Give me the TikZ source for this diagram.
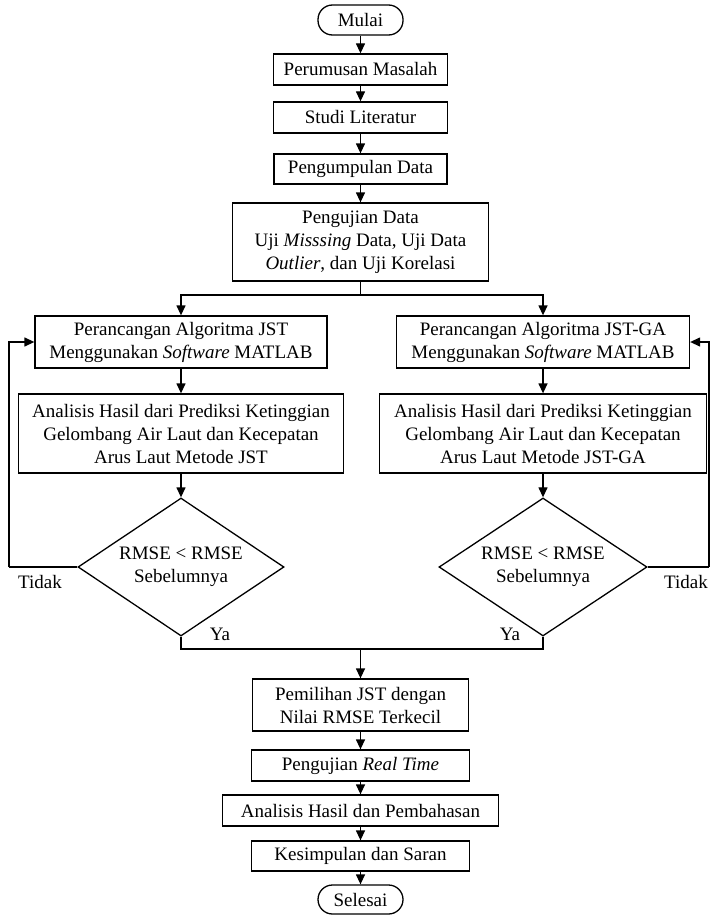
\documentclass[tikz,border=0pt]{standalone}
\usepackage{fontspec}
\setmainfont{Liberation Serif}
\usetikzlibrary{shapes.geometric,arrows.meta}
\begin{document}
\begin{tikzpicture}[x=1pt,y=-1pt,font=\fontsize{19}{23}\selectfont,
  box/.style={draw,line width=1.3pt,rectangle,inner sep=0pt,align=center},
  term/.style={draw,line width=1.3pt,rounded corners=14.5pt,inner sep=0pt},
  dec/.style={draw,line width=1.3pt,diamond,inner sep=0pt,aspect=1.5,align=center},
  arr/.style={line width=1.3pt,-{Triangle[length=10pt,width=9pt]}},
  ln/.style={line width=1.3pt}]
\useasboundingbox (0,0) rectangle (710,915);

\node[term,minimum width=85pt,minimum height=30pt] (mulai) at (360.5,20) {Mulai};
\node[box,minimum width=174pt,minimum height=31pt] (rumus) at (360.5,69.5) {Perumusan Masalah};
\node[box,minimum width=174pt,minimum height=31pt] (studi) at (360.5,117.5) {Studi Literatur};
\node[box,minimum width=173pt,minimum height=30pt] (kumpul) at (360.5,169) {Pengumpulan Data};
\node[box,minimum width=256pt,minimum height=78pt] (uji) at (360.5,242) {Pengujian Data\\Uji \textit{Misssing} Data, Uji Data\\\textit{Outlier}, dan Uji Korelasi};

\node[box,minimum width=292pt,minimum height=52pt] (jstA) at (181,342) {Perancangan Algoritma JST\\Menggunakan \textit{Software} MATLAB};
\node[box,minimum width=325pt,minimum height=79pt] (anaA) at (181,433.5) {Analisis Hasil dari Prediksi Ketinggian\\Gelombang Air Laut dan Kecepatan\\Arus Laut Metode JST};
\node[dec,minimum width=206pt,minimum height=138pt] (diaA) at (181,567) {RMSE < RMSE\\Sebelumnya};

\node[box,minimum width=293pt,minimum height=52pt] (jstB) at (543,342) {Perancangan Algoritma JST-GA\\Menggunakan \textit{Software} MATLAB};
\node[box,minimum width=327pt,minimum height=79pt] (anaB) at (543,433.5) {Analisis Hasil dari Prediksi Ketinggian\\Gelombang Air Laut dan Kecepatan\\Arus Laut Metode JST-GA};
\node[dec,minimum width=208pt,minimum height=138pt] (diaB) at (543,567) {RMSE < RMSE\\Sebelumnya};

\node[box,minimum width=216pt,minimum height=52pt] (pilih) at (360.5,705) {Pemilihan JST dengan\\Nilai RMSE Terkecil};
\node[box,minimum width=218pt,minimum height=31pt] (real) at (360.5,765.5) {Pengujian \textit{Real Time}};
\node[box,minimum width=276pt,minimum height=31pt] (bahas) at (360.5,810.5) {Analisis Hasil dan Pembahasan};
\node[box,minimum width=218pt,minimum height=30pt] (simpul) at (360.5,856) {Kesimpulan dan Saran};
\node[term,minimum width=85pt,minimum height=29pt] (selesai) at (360.5,899.5) {Selesai};

\node (tidakA) at (40,582) {Tidak};
\node (tidakB) at (686,582) {Tidak};
\node (yaA) at (220,634) {Ya};
\node (yaB) at (510,634) {Ya};

\coordinate (split) at (360.5,295);
\coordinate (merge) at (360.5,649);
\coordinate (fbA) at (9,567);
\coordinate (fbB) at (709,567);

\draw[arr] (mulai) -- (rumus);
\draw[arr] (rumus) -- (studi);
\draw[arr] (studi) -- (kumpul);
\draw[arr] (kumpul) -- (uji);
\draw[ln] (uji) -- (split);
\draw[arr] (split) -| (jstA.north);
\draw[arr] (split) -| (jstB.north);
\draw[arr] (jstA) -- (anaA);
\draw[arr] (jstB) -- (anaB);
\draw[arr] (anaA) -- (diaA);
\draw[arr] (anaB) -- (diaB);
\draw[ln] (diaA.west) -- (fbA);
\draw[arr] (fbA) |- (jstA.west);
\draw[ln] (diaB.east) -- (fbB);
\draw[arr] (fbB) |- (jstB.east);
\draw[ln] (diaA.south) |- (merge);
\draw[ln] (diaB.south) |- (merge);
\draw[arr] (merge) -- (pilih);
\draw[arr] (pilih) -- (real);
\draw[arr] (real) -- (bahas);
\draw[arr] (bahas) -- (simpul);
\draw[arr] (simpul) -- (selesai);
\end{tikzpicture}
\end{document}
